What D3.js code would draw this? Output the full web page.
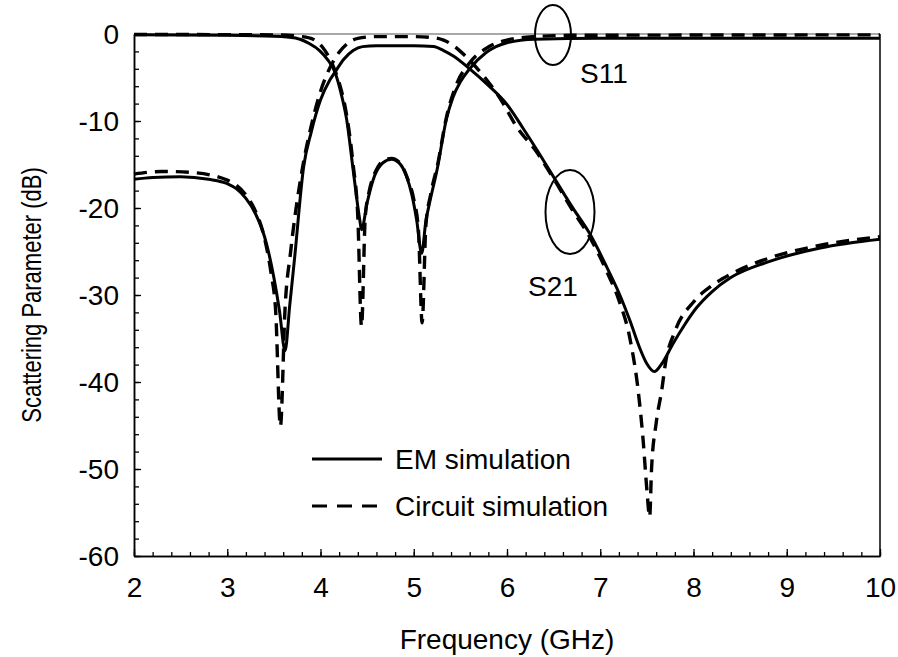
<!DOCTYPE html>
<html>
<head>
<meta charset="utf-8">
<script src="https://cdn.jsdelivr.net/npm/d3@7"></script>
<style>
  html, body { margin: 0; padding: 0; background: #fff; }
  svg { display: block; font-family: "Liberation Sans", Arial, sans-serif; }
</style>
</head>
<body>
<svg id="chart" width="898" height="657"></svg>
<script>
// ---- Data ----
const xTicks = [2, 3, 4, 5, 6, 7, 8, 9, 10];
const yTicks = [0, -10, -20, -30, -40, -50, -60];

// EM simulation, S21
const emS21Freq = [2.0, 2.2, 2.5, 2.8, 3.0, 3.1, 3.2, 3.3, 3.4, 3.5, 3.56, 3.62, 3.67, 3.72, 3.82, 3.9, 4.0, 4.1, 4.16, 4.25, 4.35, 4.45, 4.6, 5.0, 5.21, 5.32, 5.42, 5.6, 5.8, 6.0, 6.17, 6.32, 6.515, 6.7, 6.89, 7.07, 7.21, 7.32, 7.42, 7.5, 7.58, 7.66, 7.78, 7.9, 8.03, 8.2, 8.4, 8.8, 9.36, 10];
const emS21 = [-16.7, -16.5, -16.4, -16.7, -17.2, -17.8, -18.9, -20.6, -23.3, -28.0, -31.8, -36.4, -31.2, -26.0, -15.2, -11.3, -7.6, -5.3, -4.3, -2.9, -1.9, -1.45, -1.35, -1.35, -1.45, -1.9, -2.5, -4.0, -5.9, -8.1, -10.8, -13.3, -16.7, -19.9, -23.0, -26.8, -30.0, -33.0, -36.0, -37.9, -38.8, -37.9, -35.6, -33.5, -31.5, -29.6, -28.0, -26.2, -24.6, -23.6];

// Circuit simulation, S21
const ckS21Freq = [2.0, 2.3, 2.6, 3.0, 3.2, 3.3, 3.4, 3.47, 3.52, 3.57, 3.62, 3.68, 3.8, 3.9, 4.0, 4.1, 4.2, 4.3, 4.4, 4.6, 5.0, 5.2, 5.32, 5.42, 5.5, 5.7, 5.92, 6.1, 6.32, 6.515, 6.7, 6.89, 7.07, 7.2, 7.32, 7.41, 7.46, 7.5, 7.53, 7.55, 7.6, 7.66, 7.7, 7.8, 8.0, 8.2, 8.4, 8.8, 9.4, 10];
const ckS21 = [-16.1, -15.8, -15.9, -16.8, -18.5, -20.3, -23.5, -27.5, -32.0, -45.1, -31.5, -25.0, -15.8, -10.6, -6.6, -3.9, -2.1, -1.0, -0.5, -0.3, -0.3, -0.4, -0.7, -1.3, -2.0, -4.2, -7.3, -10.6, -13.6, -16.9, -20.2, -23.4, -27.3, -30.6, -35.1, -41.3, -46.7, -52.4, -55.5, -50.0, -44.7, -40.9, -37.8, -34.2, -30.8, -28.9, -27.6, -25.8, -24.2, -23.3];

// EM simulation, S11
const emS11Freq = [2.0, 3.0, 3.5, 3.64, 3.78, 3.88, 3.99, 4.08, 4.155, 4.22, 4.28, 4.35, 4.42, 4.44, 4.5, 4.58, 4.67, 4.76, 4.85, 4.92, 4.98, 5.03, 5.085, 5.13, 5.17, 5.25, 5.35, 5.42, 5.5, 5.6, 5.78, 6.0, 6.3, 7.0, 8.0, 10];
const emS11 = [-0.1, -0.15, -0.25, -0.35, -0.6, -1.1, -1.9, -3.0, -4.4, -6.8, -9.8, -15.6, -21.3, -22.5, -19.4, -16.3, -14.8, -14.4, -14.9, -16.3, -18.5, -21.3, -25.2, -21.5, -19.4, -15.6, -9.8, -7.3, -5.5, -4.0, -2.1, -1.0, -0.6, -0.5, -0.5, -0.5];

// Circuit simulation, S11
const ckS11Freq = [2.0, 3.5, 3.8, 3.92, 4.02, 4.12, 4.2, 4.28, 4.35, 4.4, 4.44, 4.48, 4.52, 4.6, 4.68, 4.76, 4.85, 4.93, 5.0, 5.05, 5.09, 5.13, 5.18, 5.26, 5.35, 5.45, 5.6, 5.8, 6.0, 6.3, 6.7, 10];
const ckS11 = [-0.05, -0.1, -0.3, -0.6, -1.5, -3.3, -5.6, -9.3, -15.0, -21.0, -33.6, -21.0, -18.2, -15.6, -14.5, -14.3, -14.8, -16.5, -19.0, -22.5, -33.2, -22.0, -18.5, -14.8, -9.6, -6.0, -3.3, -1.5, -0.7, -0.3, -0.15, -0.1];

const legendLabels = ["EM simulation", "Circuit simulation"];
const xTitle = "Frequency (GHz)";
const yTitle = "Scattering Parameter (dB)";

// ---- Layout ----
const svg = d3.select("#chart");
const pLeft = 134, pRight = 880, pTop = 34, pBottom = 556;
const x = d3.scaleLinear().domain([2, 10]).range([pLeft, pRight]);
const y = d3.scaleLinear().domain([-60, 0]).range([pBottom, pTop]);

const fontSize = 28;

// frame: top and right thin lines
svg.append("line").attr("x1", pLeft).attr("x2", pRight).attr("y1", pTop).attr("y2", pTop)
  .attr("stroke", "#555").attr("stroke-width", 1.2);
svg.append("line").attr("x1", pRight).attr("x2", pRight).attr("y1", pTop).attr("y2", pBottom)
  .attr("stroke", "#000").attr("stroke-width", 1.5);

// bottom axis with inward ticks
const xMinor = d3.range(2, 10.0001, 0.2);
const xAxisMinor = d3.axisBottom(x).tickValues(xMinor).tickSizeInner(-4).tickSizeOuter(0).tickFormat("");
const gxm = svg.append("g").attr("transform", `translate(0,${pBottom})`).call(xAxisMinor);
const xAxis = d3.axisBottom(x).tickValues(xTicks).tickSizeInner(-7).tickSizeOuter(0).tickFormat(d3.format("d"));
const gx = svg.append("g").attr("transform", `translate(0,${pBottom})`).call(xAxis);
gx.selectAll("text").attr("font-size", fontSize).attr("fill", "#000")
  .attr("font-family", "Liberation Sans, Arial, sans-serif").attr("dy", null).attr("y", 41);
[gx, gxm].forEach(g => {
  g.select(".domain").attr("stroke", "#000").attr("stroke-width", 1.5);
  g.selectAll(".tick line").attr("stroke", "#000").attr("stroke-width", 1.3);
});

// left axis with inward ticks
const yMinor = d3.range(-60, 0.0001, 2);
const yAxisMinor = d3.axisLeft(y).tickValues(yMinor).tickSizeInner(-5).tickSizeOuter(0).tickFormat("");
const gym = svg.append("g").attr("transform", `translate(${pLeft},0)`).call(yAxisMinor);
const yAxis = d3.axisLeft(y).tickValues(yTicks).tickSizeInner(-7).tickSizeOuter(0).tickFormat(d => d === 0 ? "0" : String(d));
const gy = svg.append("g").attr("transform", `translate(${pLeft},0)`).call(yAxis);
gy.selectAll("text").attr("font-size", fontSize).attr("fill", "#000")
  .attr("font-family", "Liberation Sans, Arial, sans-serif").attr("x", -15).attr("dy", "0.35em");
[gy, gym].forEach(g => {
  g.select(".domain").attr("stroke", "#000").attr("stroke-width", 1.5);
  g.selectAll(".tick line").attr("stroke", "#000").attr("stroke-width", 1.3);
});

// titles
svg.append("text").attr("x", 507).attr("y", 649).attr("text-anchor", "middle")
  .attr("font-size", fontSize).attr("fill", "#000").text(xTitle);
svg.append("text").attr("transform", "translate(41,295) rotate(-90) scale(1,1.25)").attr("text-anchor", "middle")
  .attr("font-size", 22).attr("fill", "#000").text(yTitle);

// curves
const line = d3.line().x(d => x(d[0])).y(d => y(d[1])).curve(d3.curveMonotoneX);
const zip = (f, v) => f.map((d, i) => [d, v[i]]);
const series = [
  { f: emS11Freq, v: emS11, dash: null },
  { f: emS21Freq, v: emS21, dash: null },
  { f: ckS11Freq, v: ckS11, dash: "13,8" },
  { f: ckS21Freq, v: ckS21, dash: "13,8" }
];
series.forEach(s => {
  svg.append("path").datum(zip(s.f, s.v)).attr("d", line)
    .attr("fill", "none").attr("stroke", "#000")
    .attr("stroke-width", s.dash ? 3.4 : 3)
    .attr("stroke-dasharray", s.dash)
    .attr("stroke-linejoin", "round");
});

// annotations
svg.append("ellipse").attr("cx", 553).attr("cy", 35).attr("rx", 18).attr("ry", 30)
  .attr("fill", "none").attr("stroke", "#000").attr("stroke-width", 2);
svg.append("text").attr("x", 580).attr("y", 83).attr("font-size", fontSize).attr("fill", "#000").text("S11");
svg.append("ellipse").attr("cx", 570).attr("cy", 212).attr("rx", 24.5).attr("ry", 42)
  .attr("fill", "none").attr("stroke", "#000").attr("stroke-width", 2);
svg.append("text").attr("x", 528).attr("y", 296).attr("font-size", fontSize).attr("fill", "#000").text("S21");

// legend
const legY = [459, 506];
legendLabels.forEach((lab, i) => {
  svg.append("line").attr("x1", 312).attr("x2", 382).attr("y1", legY[i]).attr("y2", legY[i])
    .attr("stroke", "#000").attr("stroke-width", 3.2)
    .attr("stroke-dasharray", i === 1 ? "15,10" : null);
  svg.append("text").attr("x", 395).attr("y", legY[i] + 10).attr("font-size", fontSize)
    .attr("fill", "#000").text(lab);
});
</script>
</body>
</html>
